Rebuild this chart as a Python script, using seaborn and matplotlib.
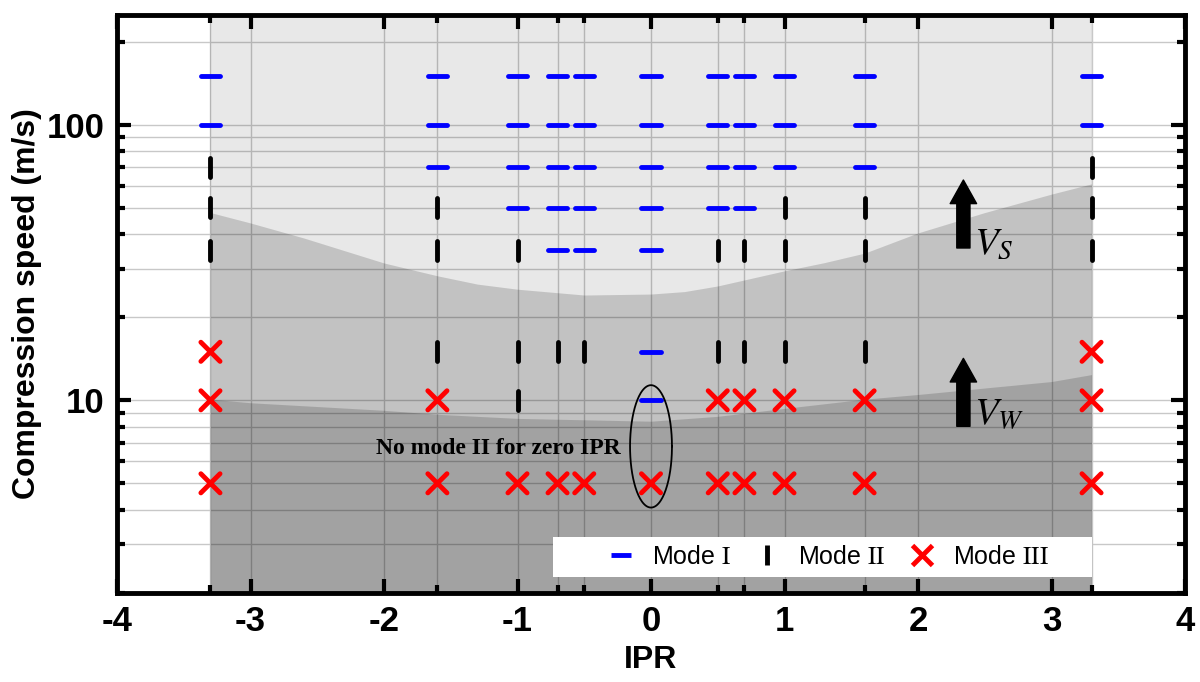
import numpy as np
import pandas as pd
import seaborn as sns
import matplotlib.pyplot as plt
from matplotlib.lines import Line2D
from matplotlib.patches import Rectangle
from matplotlib.ticker import FixedLocator, FuncFormatter, LogLocator, NullFormatter

sns.set_style('white')
plt.rcParams['font.family'] = ['Liberation Sans', 'DejaVu Sans']
plt.rcParams['mathtext.fontset'] = 'stix'
plt.rcParams['axes.unicode_minus'] = False
plt.rcParams['text.color'] = 'black'
plt.rcParams['axes.labelcolor'] = 'black'
plt.rcParams['xtick.color'] = 'black'
plt.rcParams['ytick.color'] = 'black'

# IPR values that were tested
ipr = [-3.3, -1.6, -1, -0.7, -0.5, 0, 0.5, 0.7, 1, 1.6, 3.3]

# compression speeds (m/s) per IPR for each failure mode
mode1_speeds = [[150, 100], [150, 100, 70], [150, 100, 70, 50], [150, 100, 70, 50, 35],
                [150, 100, 70, 50, 35], [150, 100, 70, 50, 35, 15, 10], [150, 100, 70, 50],
                [150, 100, 70, 50], [150, 100, 70], [150, 100, 70], [150, 100]]
mode2_speeds = [[70, 50, 35], [50, 35, 15], [35, 15, 10], [15], [15], [],
                [35, 15], [35, 15], [50, 35, 15], [50, 35, 15], [70, 50, 35]]
mode3_speeds = [[15, 10, 5], [10, 5], [5], [5], [5], [5],
                [10, 5], [10, 5], [10, 5], [10, 5], [15, 10, 5]]

vs_ipr = [-3.3, -3, -2.6, -2, -1.6, -1.3, -1, -0.5, 0, 0.25, 0.5, 1, 1.3, 1.6, 2, 2.5, 3, 3.3]
vs = [48, 44, 38.8, 31.5, 28.3, 26.4, 25.3, 24.1, 24.3, 24.8, 26, 29.5, 31.6, 34.2, 40.5, 48, 56, 61]
vw_ipr = [-3.3, -3, -2, -1.6, -1, -0.5, 0, 0.5, 1, 1.6, 2, 3, 3.3]
vw = [10.1, 9.8, 9.2, 8.9, 8.6, 8.5, 8.4, 8.75, 9.35, 10.1, 10.5, 11.7, 12.4]

rows = []
for name, speeds in [('Mode I', mode1_speeds), ('Mode II', mode2_speeds), ('Mode III', mode3_speeds)]:
    for x, ys in zip(ipr, speeds):
        for y in ys:
            rows.append({'IPR': x, 'speed': y, 'mode': name})
df = pd.DataFrame(rows)

colors = {'Mode I': 'blue', 'Mode II': 'black', 'Mode III': 'red'}
markers = {'Mode I': '_', 'Mode II': '|', 'Mode III': 'x'}

fig = plt.figure(figsize=(12, 6.82), dpi=100)
ax = fig.add_axes([0.0975, 0.1305, 0.89, 0.8475])
ax.set_yscale('log')
ax.set_xlim(-4, 4)
ax.set_ylim(2, 250)

# shaded regions
lo, hi = ipr[0], ipr[-1]
ax.fill_between([lo, hi], 2, 250, color='black', alpha=0.09, lw=0, zorder=1)
ax.fill_between(vs_ipr, 2, vs, color='black', alpha=0.16, lw=0, zorder=1)
ax.fill_between(vw_ipr, 2, vw, color='black', alpha=0.16, lw=0, zorder=1)

sns.scatterplot(data=df, x='IPR', y='speed', hue='mode', style='mode',
                palette=colors, markers=markers, s=190, linewidth=3.5,
                legend=False, ax=ax, zorder=3)
ax.collections[-1].set_capstyle('round')

# ticks and grid
ax.set_xticks(range(-4, 5))
ax.xaxis.set_minor_locator(FixedLocator(ipr))
ax.yaxis.set_major_locator(LogLocator(base=10))
ax.yaxis.set_minor_locator(LogLocator(base=10, subs=np.arange(2, 10)))
ax.yaxis.set_major_formatter(FuncFormatter(lambda v, p: f'{v:g}'))
ax.yaxis.set_minor_formatter(NullFormatter())
ax.tick_params(which='both', direction='in', top=True, right=True, bottom=True, left=True,
               width=3, color='black')
ax.tick_params(which='major', length=10, labelsize=25, pad=9)
ax.tick_params(which='minor', length=6)
for lab in ax.get_xticklabels() + ax.get_yticklabels():
    lab.set_fontweight('bold')
ax.grid(True, which='both', color='#c8c8c8', lw=1)
ax.set_axisbelow(True)
for sp in ax.spines.values():
    sp.set_linewidth(3.5)
    sp.set_color('black')

ax.set_xlabel('IPR', fontsize=23, fontweight='bold')
ax.set_ylabel('Compression speed (m/s)', fontsize=23, fontweight='bold')
ax.xaxis.set_label_coords(0.5, -0.09)
ax.yaxis.set_label_coords(-0.07, 0.5)

# annotation for zero IPR
t = np.linspace(0, 2 * np.pi, 200)
ax.plot(0.157 * np.cos(t), 10 ** (0.833 + 0.222 * np.sin(t)), color='black', lw=1.3, zorder=4)
ax.text(-0.23, 6.69, 'No mode II for zero IPR', ha='right', va='center',
        fontsize=17, fontweight='bold', family='Liberation Serif', zorder=4)

# arrows for Vs and Vw
arrow = dict(arrowstyle='simple,head_width=1.9,head_length=1.7,tail_width=0.95',
             color='black', shrinkA=0, shrinkB=0, mutation_scale=10)
ax.annotate('', xy=(2.34, 63), xytext=(2.34, 35.7), arrowprops=arrow, zorder=4)
ax.annotate('', xy=(2.34, 14.2), xytext=(2.34, 8.05), arrowprops=arrow, zorder=4)
ax.text(2.42, 37, r'$V_S$', fontsize=28, ha='left', va='center', zorder=4)
ax.text(2.42, 8.9, r'$V_W$', fontsize=28, ha='left', va='center', zorder=4)

# legend on a white box
ax.add_patch(Rectangle((0.408, 0.0277), 0.505, 0.069, transform=ax.transAxes,
                       facecolor='white', edgecolor='none', zorder=5))
handles = [Line2D([], [], ls='none', marker=markers[m], color=colors[m],
                  markersize=14, markeredgewidth=3.5, solid_capstyle='round')
           for m in colors]
labels = [r'Mode $\mathrm{I}$', r'Mode $\mathrm{II}$', r'Mode $\mathrm{III}$']
leg = ax.legend(handles, labels, ncol=3, loc='center', bbox_to_anchor=(0.665, 0.0622),
                fontsize=18, frameon=False, handlelength=1.2, handletextpad=0.64,
                columnspacing=0.85, borderpad=0, borderaxespad=0)
leg.set_zorder(6)

fig.savefig('out.png', dpi=100)
